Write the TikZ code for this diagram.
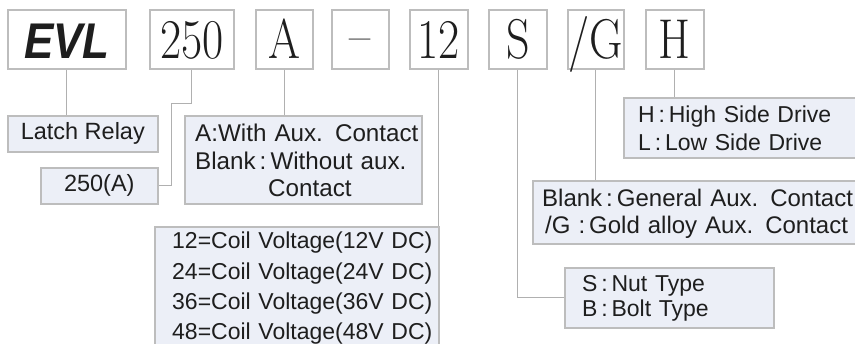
\documentclass[tikz,border=0pt]{standalone}
\usepackage{graphicx}
\usepackage{fontspec}
\newfontfamily\lib{Liberation Sans}
\definecolor{bordergray}{HTML}{BDBDBD}
\definecolor{conngray}{HTML}{B0B0B0}
\definecolor{boxfill}{HTML}{ECEFF7}
\definecolor{ink}{HTML}{1E1E1E}
\newcommand\tallify[1]{\scalebox{1}[1.22]{#1}}
\tikzset{
  topbox/.style={draw=bordergray, line width=1.6pt, fill=white, minimum width=#1,
    minimum height=59pt, inner sep=0pt, text height=39pt, text depth=0pt,
    anchor=north west, text=ink, font=\fontsize{46}{46}\selectfont},
  lowbox/.style={draw=bordergray, line width=1.6pt, fill=boxfill, inner sep=0pt,
    anchor=north west, text=ink},
  txt/.style={anchor=base west, inner sep=0pt, align=left, text width=330pt, text=ink},
  conn/.style={draw=conngray, line width=0.9pt}
}
\begin{document}
\begin{tikzpicture}[x=1pt, y=-1pt]
\fill[white] (0,0) rectangle (855,344);
\useasboundingbox (0,0) rectangle (855,344);

% top code boxes
\node[topbox=118pt] (evl) at (7,9) {\lib\bfseries\itshape\fontsize{44}{44}\selectfont\scalebox{1}[1.14]{EVL}};
\node[topbox=84pt] (b250) at (149,9) {\tallify{250}};
\node[topbox=57pt] (ba) at (255,9) {\tallify{A}};
\node[topbox=57pt] (bdash) at (331,9) {\raisebox{4pt}{\tallify{--}}};
\node[topbox=58pt] (b12) at (409,9) {\tallify{12}};
\node[topbox=58pt] (bs) at (488,9) {\tallify{S}};
\node[topbox=56pt] (bg) at (567,9) {\tallify{/G}};
\node[topbox=58pt] (bh) at (645,9) {\tallify{H}};

% description boxes
\node[lowbox, minimum width=150pt, minimum height=36pt, font=\lib\fontsize{23.5}{28}\selectfont] (latch) at (7,115) {Latch Relay};
\node[lowbox, minimum width=117pt, minimum height=36pt, font=\lib\fontsize{23.5}{28}\selectfont] (a250) at (40,167) {250(A)};
\node[lowbox, minimum width=237pt, minimum height=88pt] (abox) at (184,115) {};
\node[lowbox, minimum width=250pt, minimum height=60pt] (hbox) at (623,97) {};
\node[lowbox, minimum width=340pt, minimum height=63pt] (gbox) at (532,180) {};
\node[lowbox, minimum width=209pt, minimum height=60pt] (sbox) at (564,267) {};
\node[lowbox, minimum width=284pt, minimum height=140pt] (coil) at (154,226) {};

% texts
\node[txt, font=\lib\fontsize{24.2}{27.5}\selectfont] (atext) at (195,142)
  {A:With Aux. Contact\\Blank\,:\,Without aux.\\\hspace*{73pt}Contact};
\node[txt, font=\lib\fontsize{23}{28}\selectfont] (htext) at (638,123)
  {H\,:\,High Side Drive\\L\,:\,Low Side Drive};
\node[txt, font=\lib\fontsize{24}{27}\selectfont] (gtext) at (542,207)
  {Blank\,:\,General Aux. Contact\\\hspace*{3pt}/G\ :\,Gold alloy Aux. Contact};
\node[txt, font=\lib\fontsize{23}{25}\selectfont] (stext) at (582,292)
  {S\,:\,Nut Type\\B\,:\,Bolt Type};
\node[txt, font=\lib\fontsize{23}{30.3}\selectfont] (ctext) at (172,249)
  {12=Coil Voltage(12V DC)\\24=Coil Voltage(24V DC)\\36=Coil Voltage(36V DC)\\48=Coil Voltage(48V DC)};

% connectors
\coordinate (k250) at (171,103);
\draw[conn] (evl.south) -- (evl.south |- latch.north);
\draw[conn] (b250.south) |- (k250) |- (a250.east);
\draw[conn] (ba.south) -- (ba.south |- abox.north);
\draw[conn] (b12.south) -- (b12.south |- coil.north);
\draw[conn] (bs.south) |- (sbox.west);
\draw[conn] (bg.south) -- (bg.south |- gbox.north);
\draw[conn] (bh.south) -- (bh.south |- hbox.north);
\end{tikzpicture}
\end{document}
